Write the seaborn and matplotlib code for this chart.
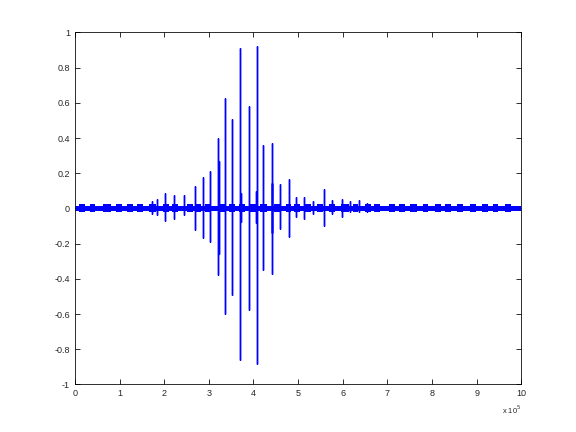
import numpy as np
import pandas as pd
import matplotlib
matplotlib.use("Agg")
import matplotlib.pyplot as plt
import seaborn as sns
from matplotlib.ticker import FuncFormatter

# ---- data (x in units of 1e5 samples) ----
spike_x = [1.72, 1.85, 2.02, 2.23, 2.45, 2.70, 2.88, 3.03, 3.21, 3.23, 3.37, 3.53,
           3.71, 3.72, 3.90, 4.06, 4.07, 4.22, 4.41, 4.42, 4.60, 4.80, 4.96, 5.14,
           5.34, 5.59, 5.77, 5.98, 6.17, 6.37, 6.55]
spike_up = [0.04, 0.054, 0.085, 0.075, 0.075, 0.13, 0.18, 0.21, 0.40, 0.27, 0.63, 0.51,
            0.91, 0.09, 0.58, 0.10, 0.92, 0.36, 0.146, 0.37, 0.14, 0.17, 0.067, 0.067,
            0.04, 0.11, 0.05, 0.054, 0.04, 0.05, 0.03]
spike_down = [-0.03, -0.04, -0.07, -0.06, -0.035, -0.12, -0.17, -0.19, -0.38, -0.26, -0.60, -0.49,
              -0.86, -0.075, -0.575, -0.08, -0.885, -0.35, -0.137, -0.375, -0.115, -0.165, -0.05, -0.058,
              -0.03, -0.10, -0.03, -0.05, -0.02, -0.02, -0.02]

# noise bursts: centre and half-width (x units, 1e5 samples)
burst_x = [0.16, 0.40, 0.72, 0.99, 1.23, 1.46, 1.73, 2.04, 2.24, 2.58, 2.76, 2.98,
           3.30, 3.52, 3.74, 3.99, 4.22, 4.53, 4.78, 4.98, 5.22, 5.49, 5.76, 6.05,
           6.28, 6.57, 6.77, 7.11, 7.33, 7.58, 7.85, 8.14, 8.36, 8.63, 8.92, 9.19,
           9.42, 9.71]
burst_halfwidth = [0.07, 0.06, 0.08, 0.06, 0.07, 0.06, 0.08, 0.07, 0.06, 0.07, 0.06, 0.07,
                   0.08, 0.06, 0.07, 0.06, 0.08, 0.07, 0.06, 0.07, 0.06, 0.07, 0.06, 0.08,
                   0.06, 0.07, 0.06, 0.07, 0.06, 0.08, 0.06, 0.07, 0.06, 0.07, 0.06, 0.07,
                   0.06, 0.07]

x_start, x_end = 0.0, 10.0
x_ticks = list(range(0, 11))
y_ticks = [-1, -0.8, -0.6, -0.4, -0.2, 0, 0.2, 0.4, 0.6, 0.8, 1]

# ---- build path tables ----
sx, sy = [], []
for x, u, d in zip(spike_x, spike_up, spike_down):
    sx += [x, x, x, x]
    sy += [0.0, u, d, 0.0]
spikes = pd.DataFrame({"x": sx, "y": sy})

base = pd.DataFrame({"x": [x_start, x_end], "y": [0.0, 0.0]})

bx, by, bid = [], [], []
for i, (x, h) in enumerate(zip(burst_x, burst_halfwidth)):
    bx += [x - h, x + h]
    by += [0.0, 0.0]
    bid += [i, i]
bursts = pd.DataFrame({"x": bx, "y": by, "id": bid})

# ---- style ----
sns.set_style("white")
plt.rcParams["font.family"] = ["Liberation Sans", "DejaVu Sans"]
plt.rcParams["xtick.direction"] = "in"
plt.rcParams["ytick.direction"] = "in"

fig = plt.figure(figsize=(8, 6), dpi=72)
ax = fig.add_axes([0.13, 0.11, 0.775, 0.815])

blue = (0, 0, 1)
sns.lineplot(data=base, x="x", y="y", estimator=None, ax=ax,
             color=blue, linewidth=5, solid_capstyle="butt")
sns.lineplot(data=bursts, x="x", y="y", units="id", estimator=None, ax=ax,
             color=blue, linewidth=8, solid_capstyle="butt")
sns.lineplot(data=spikes, x="x", y="y", sort=False, estimator=None, ax=ax,
             color=blue, linewidth=1.4, solid_joinstyle="bevel")

ax.set_xlim(x_start, x_end)
ax.set_ylim(-1, 1)
ax.set_xticks(x_ticks)
ax.set_yticks(y_ticks)
ax.yaxis.set_major_formatter(FuncFormatter(lambda v, p: f"{v:g}"))
ax.xaxis.set_major_formatter(FuncFormatter(lambda v, p: f"{v:g}"))
ax.set_xlabel("")
ax.set_ylabel("")
ax.tick_params(axis="both", which="major", direction="in", length=5, width=0.8,
               labelsize=9, top=True, right=True, bottom=True, left=True, pad=5,
               color="black")
for s in ax.spines.values():
    s.set_visible(True)
    s.set_color("black")
    s.set_linewidth(0.8)

ax.text(1.0, -0.055, r"x 10$^5$", transform=ax.transAxes, ha="right", va="top",
        fontsize=7.5)

fig.savefig("out.png", dpi=72, facecolor="white")
